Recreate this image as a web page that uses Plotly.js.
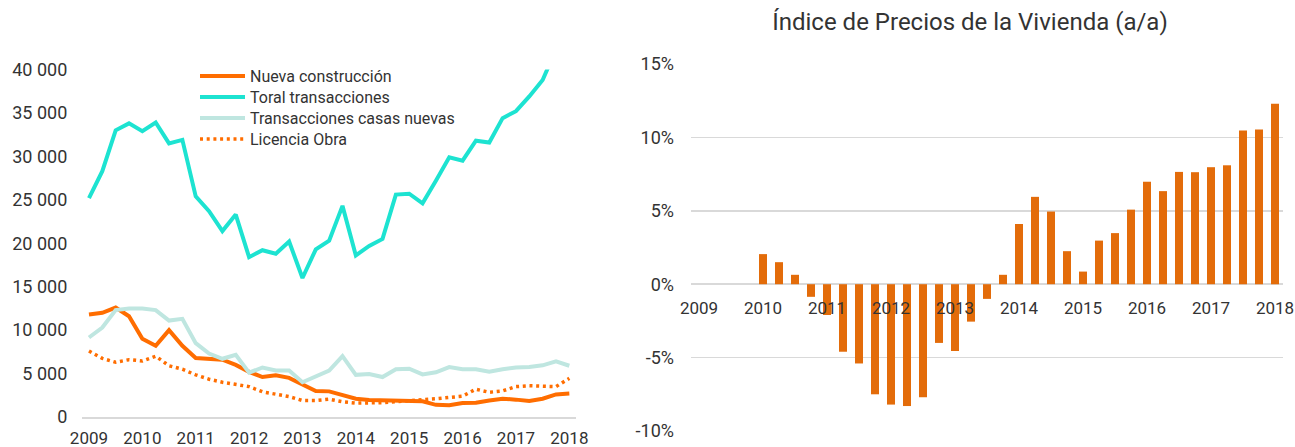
<!DOCTYPE html>
<html>
<head>
<meta charset="utf-8">
<script src="https://cdn.plot.ly/plotly-3.0.1.min.js"></script>
<style>
html,body{margin:0;padding:0;background:#fff;}
#chart{width:1295px;height:447px;}
</style>
</head>
<body>
<div id="chart"></div>
<script>
// ---- data ----
const years = [2009, 2010, 2011, 2012, 2013, 2014, 2015, 2016, 2017, 2018];
const quarters = [];
years.forEach(function (y) {
  [1, 2, 3, 4].forEach(function (q) {
    if (y < 2018 || q === 1) quarters.push(y + ' T' + q);
  });
});
const yearTickVals = years.map(function (y) { return y + ' T1'; });
const yearTickText = years.map(String);

const nuevaConstruccion = [11800, 12000, 12600, 11600, 9000, 8200, 10000, 8200, 6800, 6700, 6600, 6000, 5200, 4600, 4800, 4500, 3750, 3000, 2950, 2500, 2100, 1950, 1900, 1950, 1900, 1800, 1400, 1350, 1600, 1650, 1900, 2100, 2000, 1850, 2100, 2600, 2700];
const totalTransacciones = [25200, 28300, 33000, 33800, 32900, 33900, 31500, 31900, 25400, 23700, 21400, 23300, 18400, 19200, 18800, 20200, 16000, 19300, 20300, 24300, 18600, 19700, 20500, 25600, 25700, 24600, 27200, 29900, 29500, 31800, 31600, 34400, 35200, 36900, 38800, 42300, 44500];
const transaccionesCasasNuevas = [9150, 10300, 12300, 12500, 12500, 12300, 11100, 11300, 8500, 7300, 6700, 7150, 5100, 5700, 5350, 5350, 4000, 4700, 5350, 7000, 4850, 4950, 4600, 5500, 5550, 4900, 5150, 5750, 5500, 5500, 5200, 5500, 5700, 5750, 5950, 6400, 5900];
const licenciaObra = [7600, 6750, 6300, 6600, 6450, 7000, 5900, 5500, 4850, 4350, 4000, 3800, 3500, 2900, 2650, 2350, 1900, 1900, 2050, 1750, 1600, 1600, 1650, 1750, 1900, 2000, 2100, 2250, 2400, 3200, 2850, 3000, 3500, 3600, 3500, 3500, 4450];

const leftTickVals = [0, 5000, 10000, 15000, 20000, 25000, 30000, 35000, 40000];
const leftTickText = ['0', '5 000', '10 000', '15 000', '20 000', '25 000', '30 000', '35 000', '40 000'];

const ipvYoY = [null, null, null, null, 2.05, 1.5, 0.64, -0.86, -2.1, -4.6, -5.4, -7.5, -8.2, -8.3, -7.7, -4.0, -4.55, -2.55, -1.0, 0.64, 4.1, 5.95, 4.95, 2.25, 0.86, 2.97, 3.48, 5.08, 6.98, 6.34, 7.65, 7.63, 7.97, 8.1, 10.47, 10.54, 12.3];
const rightTickVals = [-10, -5, 0, 5, 10, 15];
const rightTickText = ['-10%', '-5%', '0%', '5%', '10%', '15%'];

const chartTitle = 'Índice de Precios de la Vivienda (a/a)';
const seriesNames = ['Nueva construcción', 'Toral transacciones', 'Transacciones casas nuevas', 'Licencia Obra'];

// ---- styles ----
const FONT = 'Roboto, "Open Sans", sans-serif';
const TXT = '#333333';
const W = 1295, H = 447;
const ORANGE = '#FF6D00';
const CYAN = '#1DE3D1';
const LIGHT = '#BFE6E0';
const BAR = '#E36C0A';
const GRID = '#D9D9D9';

const leftDomX = [82.3 / W, 576 / W];
const leftDomY = [1 - 417 / H, 1 - 69.5 / H];
const rightDomX = [691 / W, 1283 / W];
const rightDomY = [1 - 431 / H, 1 - 64 / H];
const rMin = -10, rMax = 15;
const zeroPos = rightDomY[0] + (0 - rMin) / (rMax - rMin) * (rightDomY[1] - rightDomY[0]);

const traces = [
  { type: 'scatter', mode: 'lines', x: quarters, y: nuevaConstruccion, name: seriesNames[0],
    line: { color: ORANGE, width: 4 }, xaxis: 'x', yaxis: 'y', legend: 'legend' },
  { type: 'scatter', mode: 'lines', x: quarters, y: totalTransacciones, name: seriesNames[1],
    line: { color: CYAN, width: 4 }, xaxis: 'x', yaxis: 'y', legend: 'legend2' },
  { type: 'scatter', mode: 'lines', x: quarters, y: transaccionesCasasNuevas, name: seriesNames[2],
    line: { color: LIGHT, width: 4 }, xaxis: 'x', yaxis: 'y', legend: 'legend3' },
  { type: 'scatter', mode: 'lines', x: quarters, y: licenciaObra, name: seriesNames[3],
    line: { color: ORANGE, width: 3.5, dash: '3px,3.7px' }, xaxis: 'x', yaxis: 'y', legend: 'legend4' },
  { type: 'bar', x: quarters, y: ipvYoY, name: 'IPV', showlegend: false,
    marker: { color: BAR }, xaxis: 'x2', yaxis: 'y2' }
];

function legendAt(py) {
  return {
    x: 195 / W, y: 1 - py / H, xanchor: 'left', yanchor: 'middle',
    bgcolor: 'rgba(0,0,0,0)', font: { family: FONT, size: 16, color: TXT },
    itemwidth: 45
  };
}

const layout = {
  width: W, height: H,
  margin: { l: 0, r: 0, t: 0, b: 0 },
  paper_bgcolor: '#ffffff', plot_bgcolor: 'rgba(0,0,0,0)',
  font: { family: FONT, color: TXT, size: 17 },
  bargap: 0.5,
  showlegend: true,
  legend: legendAt(76),
  legend2: legendAt(97),
  legend3: legendAt(118),
  legend4: legendAt(139),
  title: {
    text: chartTitle, x: 970 / W, y: 1 - 22 / H, xanchor: 'center', yanchor: 'middle',
    font: { family: FONT, size: 24, color: TXT }
  },
  xaxis: {
    domain: leftDomX, anchor: 'y', type: 'category', categoryorder: 'array', categoryarray: quarters,
    range: [-0.5, quarters.length - 0.5],
    tickmode: 'array', tickvals: yearTickVals, ticktext: yearTickText,
    showgrid: false, showline: true, linecolor: GRID, linewidth: 1.5, ticks: '',
    tickfont: { size: 17, color: TXT }, ticklabelstandoff: 5, fixedrange: true
  },
  yaxis: {
    domain: leftDomY, anchor: 'x', range: [0, 40000],
    tickmode: 'array', tickvals: leftTickVals, ticktext: leftTickText,
    showgrid: false, zeroline: false, showline: false, ticks: '',
    tickfont: { size: 18, color: TXT }, ticklabelstandoff: 14, fixedrange: true
  },
  xaxis2: {
    domain: rightDomX, anchor: 'free', position: zeroPos, type: 'category',
    categoryorder: 'array', categoryarray: quarters,
    range: [-0.5, quarters.length - 0.5],
    tickmode: 'array', tickvals: yearTickVals, ticktext: yearTickText,
    showgrid: false, showline: false, ticks: '',
    tickfont: { size: 17, color: TXT }, ticklabelstandoff: 12, fixedrange: true
  },
  yaxis2: {
    domain: rightDomY, anchor: 'x2', range: [rMin, rMax],
    tickmode: 'array', tickvals: rightTickVals, ticktext: rightTickText,
    showgrid: true, gridcolor: GRID, gridwidth: 1.5,
    zeroline: true, zerolinecolor: GRID, zerolinewidth: 1.5,
    showline: false, ticks: '',
    tickfont: { size: 18, color: TXT }, ticklabelstandoff: 16, fixedrange: true
  }
};

Plotly.newPlot('chart', traces, layout, { displayModeBar: false, staticPlot: true });
</script>
</body>
</html>
